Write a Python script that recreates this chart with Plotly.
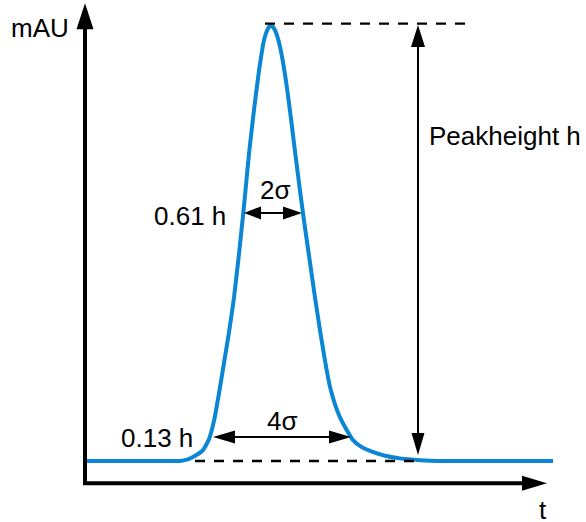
import plotly.graph_objects as go

# ---- data ----
# time axis (arbitrary units) and detector signal (mAU, peak height h = 100)
t_vals = [0.2, 6.5, 9.5, 10.2, 10.7, 11.3, 11.8, 12.4, 12.9, 13.4, 13.9, 14.4, 14.9,
          15.4, 15.9, 16.4, 16.9, 17.4, 17.9, 18.3, 18.6, 19.0, 19.4, 19.8, 20.2,
          20.6, 21.0, 21.5, 22.0, 22.5, 23.0, 23.5, 24.0, 24.5, 25.0, 25.5, 26.0,
          26.8, 27.6, 28.5, 30.0, 31.5, 33.5, 35.5, 46.8]
signal = [0.0, 0.0, 0.0, 0.3, 0.8, 1.6, 2.5, 5.0, 9.2, 15.5, 22.5, 29.5, 37.5,
          47.5, 58.5, 70.5, 80.5, 89.5, 96.5, 99.2, 100.0, 98.8, 96.0, 91.5, 85.5,
          78.5, 71.0, 62.0, 53.5, 45.5, 37.5, 30.0, 23.0, 17.0, 13.0, 10.0, 7.8,
          4.8, 3.3, 2.3, 1.2, 0.6, 0.2, 0.0, 0.0]

peak_height = 100.0
baseline = 0.0
two_sigma_edges = [15.9, 21.7]     # width at 0.61 h
two_sigma_level = 56.9
four_sigma_edges = [12.8, 26.6]    # width at 0.13 h
four_sigma_level = 5.5
height_arrow_t = 33.3
height_arrow_bottom = 1.4
top_dash_span = [18.0, 38.2]
base_dash_span = [11.0, 33.3]
axis_origin = [0.0, -5.1]
x_axis_end = 46.2
y_axis_end = 105.0

labels = {
    "y": "mAU", "x": "t", "height": "Peakheight h",
    "two": "2σ", "four": "4σ", "l061": "0.61 h", "l013": "0.13 h",
}

# ---- pixel -> data helpers (fixed figure size, zero margins) ----
W, H = 586, 522
X_RANGE = [-8.5, 50.1]
Y_RANGE = [-13.99, 105.73]
PX_X = (X_RANGE[1] - X_RANGE[0]) / W
PX_Y = (Y_RANGE[1] - Y_RANGE[0]) / H

shapes = []


def arrowhead(tx, ty, direction, length_px, width_px):
    """filled triangle with its tip at (tx, ty) pointing in direction."""
    L = length_px
    w = width_px / 2
    if direction == "up":
        pts = [(tx, ty), (tx - w * PX_X, ty - L * PX_Y), (tx + w * PX_X, ty - L * PX_Y)]
    elif direction == "down":
        pts = [(tx, ty), (tx - w * PX_X, ty + L * PX_Y), (tx + w * PX_X, ty + L * PX_Y)]
    elif direction == "right":
        pts = [(tx, ty), (tx - L * PX_X, ty + w * PX_Y), (tx - L * PX_X, ty - w * PX_Y)]
    else:
        pts = [(tx, ty), (tx + L * PX_X, ty + w * PX_Y), (tx + L * PX_X, ty - w * PX_Y)]
    path = "M " + " L ".join(f"{x},{y}" for x, y in pts) + " Z"
    shapes.append(dict(type="path", path=path, xref="x", yref="y",
                       fillcolor="black", line=dict(width=0)))


def seg(x0, y0, x1, y1, width=2, dash="solid"):
    shapes.append(dict(type="line", x0=x0, y0=y0, x1=x1, y1=y1, xref="x", yref="y",
                       line=dict(color="black", width=width, dash=dash)))


# dashed reference lines
seg(top_dash_span[0], peak_height + 0.3, top_dash_span[1], peak_height + 0.3, 2.3, "10px,9px")
seg(base_dash_span[0], baseline, base_dash_span[1], baseline, 2.3, "10px,9px")

# axes
ox, oy = axis_origin
seg(ox, oy, ox, y_axis_end - 24 * PX_Y, 4)
arrowhead(ox, y_axis_end, "up", 26, 17)
seg(ox - 2 * PX_X, oy, x_axis_end - 24 * PX_X, oy, 4)
arrowhead(x_axis_end, oy, "right", 25, 15)

# peak height double arrow
seg(height_arrow_t, height_arrow_bottom + 10 * PX_Y, height_arrow_t, peak_height - 10 * PX_Y, 2)
arrowhead(height_arrow_t, peak_height, "up", 22, 14)
arrowhead(height_arrow_t, height_arrow_bottom, "down", 22, 13)

# 2 sigma double arrow
seg(two_sigma_edges[0] + 8 * PX_X, two_sigma_level, two_sigma_edges[1] - 8 * PX_X, two_sigma_level, 2)
arrowhead(two_sigma_edges[0], two_sigma_level, "left", 17, 13)
arrowhead(two_sigma_edges[1], two_sigma_level, "right", 19, 13)

# 4 sigma double arrow
seg(four_sigma_edges[0] + 10 * PX_X, four_sigma_level, four_sigma_edges[1] - 10 * PX_X, four_sigma_level, 2)
arrowhead(four_sigma_edges[0], four_sigma_level, "left", 22, 13)
arrowhead(four_sigma_edges[1], four_sigma_level, "right", 22, 13)

fig = go.Figure()
fig.add_trace(go.Scatter(x=t_vals, y=signal, mode="lines",
                         line=dict(color="#0a86d4", width=4, shape="spline", smoothing=0.5),
                         hoverinfo="skip", showlegend=False))

FONT = dict(family="Liberation Sans, Arial, sans-serif", size=26, color="black")


def label(text, x, y, xanchor="center"):
    return dict(text=text, x=x, y=y, xref="x", yref="y", showarrow=False,
                xanchor=xanchor, yanchor="middle", font=FONT)


annotations = [
    label(labels["y"], -4.55, 99.3),
    label(labels["x"], 45.8, -11.2),
    label(labels["height"], 34.2, 74.6, "left"),
    label(labels["two"], 19.0, 62.2),
    label(labels["l061"], 14.3, 56.3, "right"),
    label(labels["four"], 19.7, 9.2),
    label(labels["l013"], 11.0, 5.2, "right"),
]

fig.update_layout(
    width=W, height=H,
    margin=dict(l=0, r=0, t=0, b=0),
    paper_bgcolor="white", plot_bgcolor="white",
    xaxis=dict(range=X_RANGE, visible=False, fixedrange=True),
    yaxis=dict(range=Y_RANGE, visible=False, fixedrange=True),
    shapes=shapes,
    annotations=annotations,
    showlegend=False,
)

fig.write_html(
    "out.html",
    config={"displayModeBar": False},
    post_script="document.body.style.margin='0px';document.body.style.overflow='hidden';",
)
